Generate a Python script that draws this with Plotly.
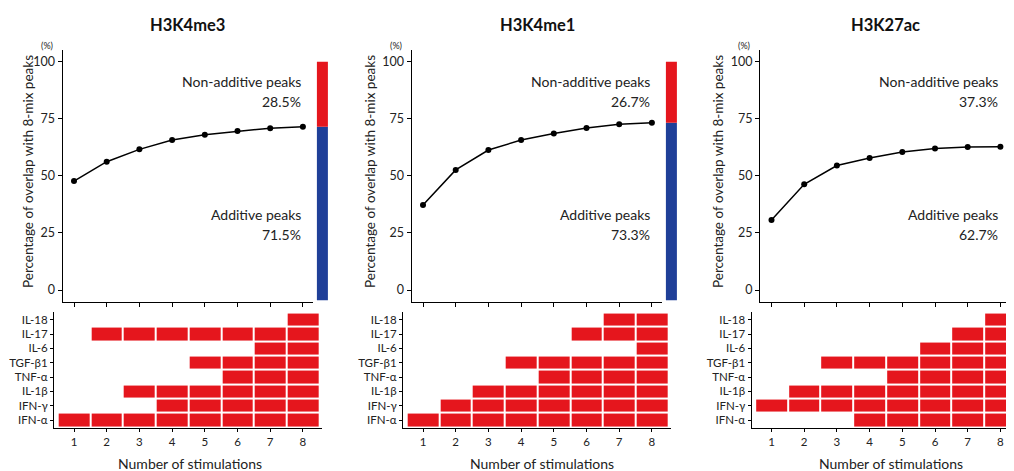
import plotly.graph_objects as go

# ---------------- data ----------------
panels = ["H3K4me3", "H3K4me1", "H3K27ac"]
stimulations = [1, 2, 3, 4, 5, 6, 7, 8]
overlap_h3k4me3 = [47.7, 56.2, 61.6, 65.7, 68.0, 69.6, 70.9, 71.5]
overlap_h3k4me1 = [37.2, 52.6, 61.3, 65.7, 68.6, 71.0, 72.6, 73.3]
overlap_h3k27ac = [30.7, 46.3, 54.5, 57.8, 60.4, 62.0, 62.6, 62.7]
additive_pct = [71.5, 73.3, 62.7]
nonadditive_pct = [28.5, 26.7, 37.3]
cytokines = ["IFN-α", "IFN-γ", "IL-1β", "TNF-α", "TGF-β1", "IL-6", "IL-17", "IL-18"]  # bottom -> top
# number of stimulations at which each cytokine (same order as above) first appears
join_h3k4me3 = [1, 4, 3, 6, 5, 7, 2, 8]
join_h3k4me1 = [1, 2, 3, 5, 4, 8, 6, 7]
join_h3k27ac = [4, 1, 2, 5, 3, 6, 7, 8]
y_ticks = [0, 25, 50, 75, 100]

overlaps = [overlap_h3k4me3, overlap_h3k4me1, overlap_h3k27ac]
joins = [join_h3k4me3, join_h3k4me1, join_h3k27ac]

# ---------------- style ----------------
W, H = 1014, 471
OFF = 8  # page body margin offset
FONT = "Lato"
TXT = "#222222"
RED = "#e5161d"
BLUE = "#1f3f98"
STEP = 32.7
tick1_px = [74, 423, 771.5]
title_px = [187, 537, 885]
ytitle_px = [28, 370, 718]
xtitle_px = [190, 542, 891]

def fx(px):
    return (px - OFF) / W

def fy(py):
    return 1 - (py - OFF) / H

# top panel vertical geometry (pixels in the reference)
Y0_PX, Y100_PX = 290.0, 61.7
TOP_AX_TOP, TOP_AX_BOT = 50.0, 301.7
upp = (Y0_PX - Y100_PX) / 100.0
top_range = [-(TOP_AX_BOT - Y0_PX) / upp, (Y0_PX - TOP_AX_TOP) / upp]

# bottom panel vertical geometry
BOT_AX_TOP, BOT_AX_BOT = 312.0, 428.0
ROW_TOP_C, ROW_BOT_C = 319.7, 420.0
rstep = (ROW_BOT_C - ROW_TOP_C) / 7
bot_range = [-(BOT_AX_BOT - ROW_BOT_C) / rstep, 7 + (ROW_TOP_C - BOT_AX_TOP) / rstep]

fig = go.Figure()
layout = dict(
    width=W, height=H, margin=dict(l=0, r=0, t=0, b=0),
    paper_bgcolor="white", plot_bgcolor="white", showlegend=False,
    font=dict(family=FONT, color=TXT),
)
annotations = []
shapes = []

for i in range(3):
    t1 = tick1_px[i]
    t8 = t1 + 7 * STEP
    # ---- top axes
    xa = f"xaxis{'' if i == 0 else 2*i+1}"
    ya = f"yaxis{'' if i == 0 else 2*i+1}"
    xr = f"x{'' if i == 0 else 2*i+1}"
    yr = f"y{'' if i == 0 else 2*i+1}"
    l_px, r_px = t1 - 11.5, min(t8 + 10, W + OFF)
    layout[xa] = dict(
        domain=[fx(l_px), fx(r_px)],
        range=[1 - (t1 - l_px) / STEP, 8 + (r_px - t8) / STEP],
        anchor=yr, showgrid=False, zeroline=False, showline=True, linecolor="black", linewidth=1,
        ticks="outside", ticklen=4, tickcolor="black", tickvals=stimulations, showticklabels=False,
    )
    layout[ya] = dict(
        domain=[fy(TOP_AX_BOT), fy(TOP_AX_TOP)], range=top_range, anchor=xr,
        showgrid=False, zeroline=False, showline=True, linecolor="black", linewidth=1,
        ticks="outside", ticklen=4, tickcolor="black", tickvals=y_ticks,
        tickfont=dict(size=12.5, color=TXT, family=FONT),
    )
    fig.add_trace(go.Scatter(
        x=stimulations, y=overlaps[i], mode="lines+markers", xaxis=xr, yaxis=yr,
        line=dict(color="black", width=1.5), marker=dict(color="black", size=6),
    ))
    # stacked additive / non-additive bar
    bx0, bx1 = fx(t8 + 14), fx(t8 + 25)
    shapes.append(dict(type="rect", xref="paper", yref=yr, x0=bx0, x1=bx1,
                       y0=top_range[0] + 0.6, y1=additive_pct[i], fillcolor=BLUE, line=dict(width=0), layer="above"))
    shapes.append(dict(type="rect", xref="paper", yref=yr, x0=bx0, x1=bx1,
                       y0=additive_pct[i], y1=additive_pct[i] + nonadditive_pct[i],
                       fillcolor=RED, line=dict(width=0), layer="above"))
    # annotations inside plot
    for txt, yv in [("Non-additive peaks", 91.2), (f"{nonadditive_pct[i]}%", 82.5),
                    ("Additive peaks", 32.9), (f"{additive_pct[i]}%", 24.5)]:
        annotations.append(dict(text=txt, x=8, y=yv, xref=xr, yref=yr, xanchor="right", yanchor="middle",
                                showarrow=False, font=dict(size=14, color=TXT, family=FONT)))
    # title
    annotations.append(dict(text=f"<b>{panels[i]}</b>", x=fx(title_px[i]), y=fy(25), xref="paper", yref="paper",
                            xanchor="center", yanchor="middle", showarrow=False,
                            font=dict(size=16.5, color="#111111", family=FONT)))
    # y title
    annotations.append(dict(text="Percentage of overlap with 8-mix peaks", x=fx(ytitle_px[i]), y=fy(172),
                            xref="paper", yref="paper", xanchor="center", yanchor="middle", textangle=-90,
                            showarrow=False, font=dict(size=13.5, color=TXT, family=FONT)))
    annotations.append(dict(text="(%)", x=fx(t1 - 27.5), y=fy(45.7), xref="paper", yref="paper",
                            xanchor="center", yanchor="middle", showarrow=False,
                            font=dict(size=9, color=TXT, family=FONT)))

    # ---- bottom axes
    xb = f"xaxis{2*i+2}"
    yb = f"yaxis{2*i+2}"
    xbr = f"x{2*i+2}"
    ybr = f"y{2*i+2}"
    lb_px, rb_px = t1 - 20, min(t8 + 19, W + OFF)
    layout[xb] = dict(
        domain=[fx(lb_px), fx(rb_px)],
        range=[1 - (t1 - lb_px) / STEP, 8 + (rb_px - t8) / STEP],
        anchor=ybr, showgrid=False, zeroline=False, showline=True, linecolor="black", linewidth=1,
        ticks="outside", ticklen=3, tickcolor="black", tickvals=stimulations,
        tickfont=dict(size=11.5, color=TXT, family=FONT),
    )
    layout[yb] = dict(
        domain=[fy(BOT_AX_BOT), fy(BOT_AX_TOP)], range=bot_range, anchor=xbr,
        showgrid=False, zeroline=False, showline=True, linecolor="black", linewidth=1,
        ticks="outside", ticklen=3, tickcolor="black",
        tickvals=list(range(len(cytokines))), ticktext=cytokines,
        tickfont=dict(size=11.5, color=TXT, family=FONT),
    )
    z = [[1 if s >= joins[i][r] else None for s in stimulations] for r in range(len(cytokines))]
    fig.add_trace(go.Heatmap(
        x=stimulations, y=list(range(len(cytokines))), z=z, xaxis=xbr, yaxis=ybr,
        colorscale=[[0, RED], [1, RED]], showscale=False, xgap=2, ygap=2, hoverinfo="skip",
    ))
    annotations.append(dict(text="Number of stimulations", x=fx(xtitle_px[i]), y=fy(463), xref="paper",
                            yref="paper", xanchor="center", yanchor="middle", showarrow=False,
                            font=dict(size=14, color=TXT, family=FONT)))

layout["annotations"] = annotations
layout["shapes"] = shapes
fig.update_layout(**layout)
fig.write_html("out.html")
